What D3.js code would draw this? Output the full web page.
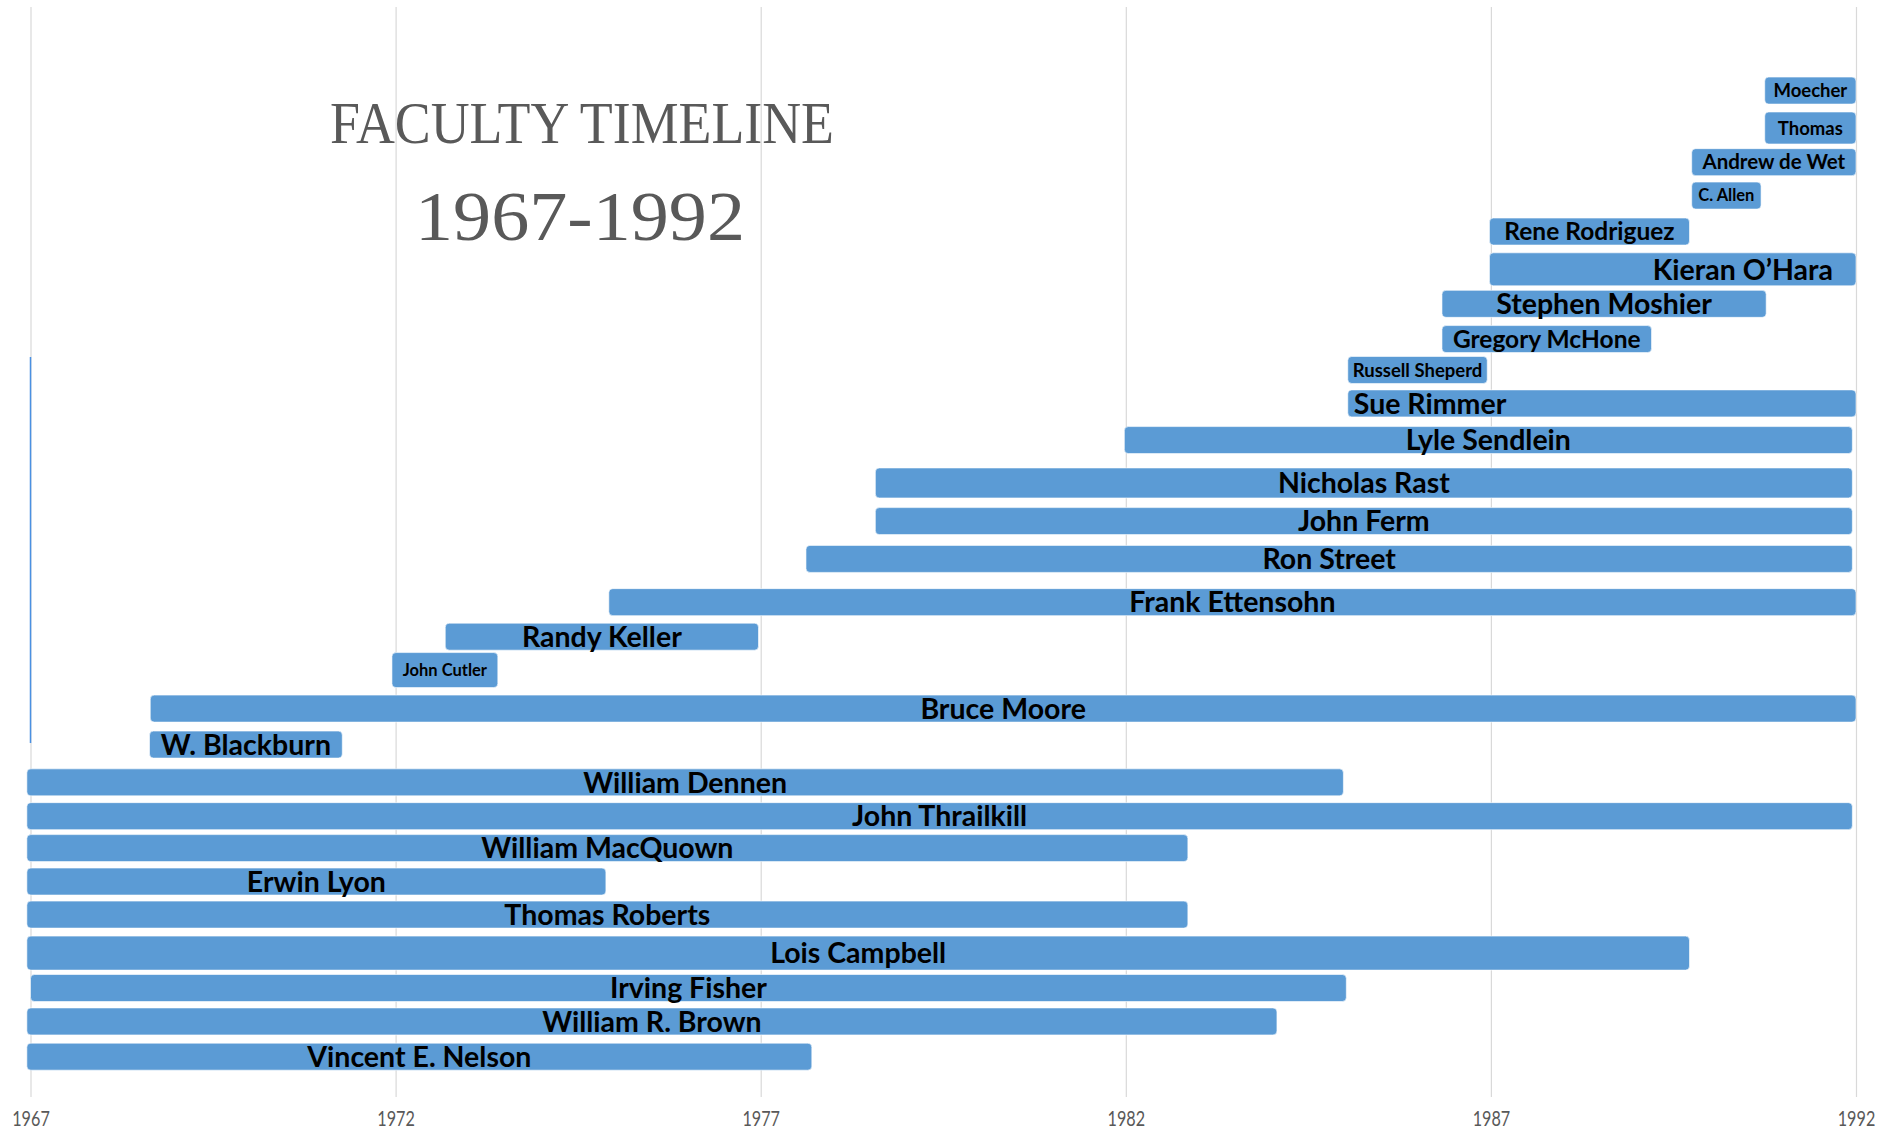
<!DOCTYPE html>
<html>
<head>
<meta charset="utf-8">
<script src="https://cdn.jsdelivr.net/npm/d3@7"></script>
<style>
  body { margin: 0; background: #fff; }
  svg { display: block; }
</style>
</head>
<body>
<div class="chart"></div>
<script>
// Faculty members, listed top to bottom
var names = ["Moecher", "Thomas", "Andrew de Wet", "C. Allen", "Rene Rodriguez",
    "Kieran O\u2019Hara", "Stephen Moshier", "Gregory McHone", "Russell Sheperd", "Sue Rimmer",
    "Lyle Sendlein", "Nicholas Rast", "John Ferm", "Ron Street", "Frank Ettensohn",
    "Randy Keller", "John Cutler", "Bruce Moore", "W. Blackburn", "William Dennen",
    "John Thrailkill", "William MacQuown", "Erwin Lyon", "Thomas Roberts", "Lois Campbell",
    "Irving Fisher", "William R. Brown", "Vincent E. Nelson"];

// first and last year (decimal years)
var startYear = [1990.75, 1990.75, 1989.75, 1989.75, 1986.98,
    1986.98, 1986.33, 1986.33, 1985.04, 1985.04,
    1981.98, 1978.57, 1978.57, 1977.62, 1974.92,
    1972.68, 1971.95, 1968.64, 1968.63, 1966.95,
    1966.95, 1966.95, 1966.95, 1966.95, 1966.95,
    1967.0, 1966.95, 1966.95];
var endYear = [1992.0, 1992.0, 1992.0, 1990.7, 1989.72,
    1992.0, 1990.77, 1989.2, 1986.95, 1992.0,
    1991.95, 1991.95, 1991.95, 1991.95, 1992.0,
    1976.97, 1973.4, 1992.0, 1971.27, 1984.98,
    1991.95, 1982.85, 1974.88, 1982.85, 1989.72,
    1985.02, 1984.07, 1977.7];

// vertical placement of each bar on the chart's hidden value axis (0 = bottom, 30 = top)
var level = [27.70, 26.67, 25.73, 24.81, 23.82,
    22.78, 21.83, 20.86, 20.01, 19.09,
    18.08, 16.90, 15.85, 14.81, 13.62,
    12.67, 11.75, 10.69, 9.70, 8.66,
    7.73, 6.85, 5.93, 5.02, 3.96,
    3.00, 2.08, 1.11];

// the stray vertical line at 1967 (value-axis extent)
var strayLine = [9.74, 20.37];

var tickYears = [1967, 1972, 1977, 1982, 1987, 1992];

var titleLines = ["FACULTY TIMELINE", "1967-1992"];

// styles
var width = 1896, height = 1130;
var plot = {left: 30.5, right: 1856, top: 7, bottom: 1097};
var barColor = "#5b9bd5";
var barThick = 27;
var thickOverride = {"Thomas": 32, "Kieran O\u2019Hara": 33, "Nicholas Rast": 30,
    "John Cutler": 35, "Lois Campbell": 34};
var labelSize = 28.5;
var sizeOverride = {"Rene Rodriguez": 24.5, "Gregory McHone": 24.5, "Andrew de Wet": 20.5,
    "Moecher": 18.5, "Thomas": 18.5, "Russell Sheperd": 18.5, "C. Allen": 16.5, "John Cutler": 16.5};

var data = names.map(function (n, i) {
    return {name: n, start: startYear[i], end: endYear[i], level: level[i]};
});

var x = d3.scaleLinear()
    .domain([1967, 1992])
    .range([plot.left, plot.right]);

var y = d3.scaleLinear()
    .domain([0, 30])
    .range([plot.bottom, plot.top]);

var svg = d3.select("div.chart")
    .append("svg")
    .attr("width", width)
    .attr("height", height);

// gridlines + year labels
var xAxis = svg.append("g")
    .attr("class", "axis--x")
    .attr("transform", "translate(0," + plot.bottom + ")")
    .call(d3.axisBottom(x)
        .tickValues(tickYears)
        .tickFormat(d3.format("d"))
        .tickSize(-(plot.bottom - plot.top)));

xAxis.select(".domain").remove();
xAxis.selectAll(".tick line")
    .attr("stroke", "#d9d9d9")
    .attr("stroke-width", 1.2);
xAxis.selectAll(".tick text")
    .attr("fill", "#595959")
    .attr("font-family", "Lato, sans-serif")
    .attr("font-size", 18)
    .attr("dy", 0)
    .attr("y", 24.2)
    .attr("transform", "scale(0.9,1.2)");

// stray line
svg.append("line")
    .attr("x1", x(1967))
    .attr("x2", x(1967))
    .attr("y1", y(strayLine[0]))
    .attr("y2", y(strayLine[1]))
    .attr("stroke", "#4a90e2")
    .attr("stroke-width", 1.5);

// title
svg.append("text")
    .attr("x", 582)
    .attr("y", 143)
    .attr("text-anchor", "middle")
    .attr("font-family", "'Liberation Serif', serif")
    .attr("font-size", 60)
    .attr("fill", "#595959")
    .attr("textLength", 504)
    .attr("lengthAdjust", "spacingAndGlyphs")
    .text(titleLines[0]);

svg.append("text")
    .attr("x", 580)
    .attr("y", 240)
    .attr("text-anchor", "middle")
    .attr("font-family", "'Liberation Serif', serif")
    .attr("font-size", 70)
    .attr("fill", "#595959")
    .attr("textLength", 330)
    .attr("lengthAdjust", "spacingAndGlyphs")
    .text(titleLines[1]);

function thick(d) {
    return thickOverride[d.name] || barThick;
}

// bars
svg.selectAll("rect.bar")
    .data(data)
    .enter().append("rect")
    .attr("class", "bar")
    .attr("x", function (d) { return x(d.start); })
    .attr("width", function (d) { return x(d.end) - x(d.start); })
    .attr("y", function (d) { return y(d.level) - thick(d) / 2; })
    .attr("height", thick)
    .attr("rx", 4)
    .attr("fill", barColor)
    .attr("stroke", "#ffffff")
    .attr("stroke-opacity", 0.6)
    .attr("stroke-width", 1);

// labels
svg.selectAll("text.label")
    .data(data)
    .enter().append("text")
    .attr("class", "label")
    .attr("font-family", "Lato, sans-serif")
    .attr("font-weight", 700)
    .attr("fill", "#000")
    .attr("font-size", function (d) { return sizeOverride[d.name] || labelSize; })
    .attr("text-anchor", function (d) {
        if (d.name == "Sue Rimmer") return "start";
        if (d.name == "Kieran O\u2019Hara") return "end";
        return "middle";
    })
    .attr("x", function (d) {
        if (d.name == "Sue Rimmer") return x(d.start) + 6;
        if (d.name == "Kieran O\u2019Hara") return x(d.end) - 23;
        return (x(d.start) + x(d.end)) / 2;
    })
    .attr("y", function (d) {
        var fs = sizeOverride[d.name] || labelSize;
        return y(d.level) + fs * 0.358;
    })
    .text(function (d) { return d.name; });
</script>
</body>
</html>
